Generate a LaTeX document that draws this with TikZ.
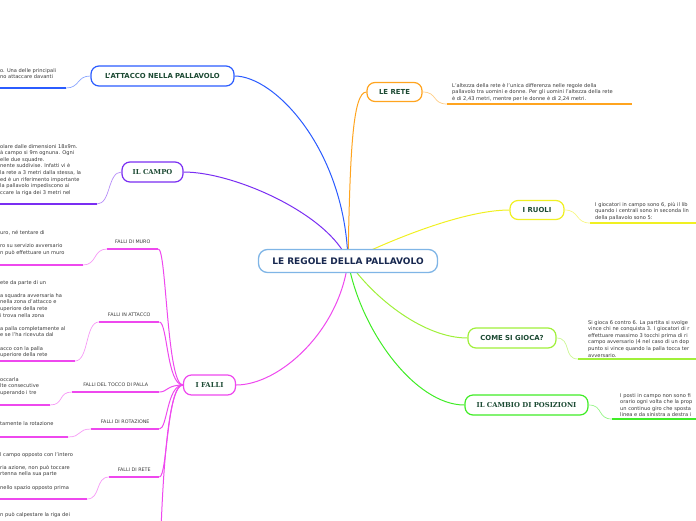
\documentclass[tikz,border=0pt]{standalone}
\usepackage{fontspec}
\setmainfont{DejaVu Sans}
\newfontfamily\slabfont{DejaVu Serif}
\usepackage{tikz}
\usetikzlibrary{positioning,backgrounds}
\definecolor{rootline}{HTML}{7FB5E6}
\definecolor{rootink}{HTML}{18284F}
\definecolor{topicink}{HTML}{1C4A33}
\definecolor{leafink}{HTML}{383838}
\definecolor{attblue}{HTML}{2B5CFF}
\definecolor{campoviolet}{HTML}{7A2EF2}
\definecolor{reteorange}{HTML}{FFA41F}
\definecolor{ruoliyellow}{HTML}{F0F022}
\definecolor{giocalime}{HTML}{A0F03A}
\definecolor{cambiogreen}{HTML}{40EC26}
\definecolor{fallimagenta}{HTML}{EE48EE}

\begin{document}
\begin{tikzpicture}[
  x=1pt, y=-1pt,
  root/.style={draw=rootline, line width=1.3pt, fill=white, rounded corners=9pt, minimum width=179pt, minimum height=23pt, inner sep=0pt, font=\fontsize{9}{10}\selectfont\bfseries, text=rootink},
  topic/.style={draw=#1, line width=1.2pt, fill=white, rounded corners=8pt, minimum height=20pt, inner sep=0pt, font=\fontsize{6.9}{8}\selectfont\bfseries, text=topicink},
  slabtopic/.style={font=\slabfont\fontsize{6.8}{8}\selectfont\bfseries},
  leaf/.style={anchor=north west, align=left, inner sep=0pt, font=\fontsize{5.1}{6.6}\selectfont, text=leafink},
  sublabel/.style={anchor=south west, inner xsep=0pt, inner ysep=4.5pt, text depth=0.5pt, font=\fontsize{4.8}{6}\selectfont, text=leafink},
  branch/.style={draw=#1, line width=1pt},
  twig/.style={draw=#1!55, line width=0.7pt},
  bar/.style={draw=#1, line width=1.6pt}
]
\useasboundingbox (0,0) rectangle (696,520);

\node[root] (root) at (348,261) {LE REGOLE DELLA PALLAVOLO};

\node[topic=attblue, minimum width=143pt] (attacco) at (162.5,76) {L'ATTACCO NELLA PALLAVOLO};
\node[topic=campoviolet, slabtopic, minimum width=61pt] (campo) at (152.5,172) {IL CAMPO};
\node[topic=reteorange, minimum width=55pt, minimum height=19pt] (rete) at (394.5,92) {LE RETE};
\node[topic=ruoliyellow, minimum width=54pt, minimum height=19pt] (ruoli) at (537,210) {I RUOLI};
\node[topic=giocalime, minimum width=88pt] (gioca) at (512,338) {COME SI GIOCA?};
\node[topic=cambiogreen, slabtopic, minimum width=123pt] (cambio) at (526.5,405) {IL CAMBIO DI POSIZIONI};
\node[topic=fallimagenta, slabtopic, minimum width=52pt] (falli) at (209.5,385) {I FALLI};

% texts of the leaves
\node[leaf] (tatt) at (0,68) {o. Una delle principali\\no attaccare davanti};
\node[leaf] (tcampo) at (0,144) {olare dalle dimensioni 18x9m.\\à campo si 9m ognuna. Ogni\\elle due squadre.\\nente suddivise. Infatti vi è\\la rete a 3 metri dalla stessa, la\\ed è un riferimento importante\\la pallavolo impediscono ai\\ccare la riga dei 3 metri nel};
\node[leaf] (trete) at (452,83) {L'altezza della rete è l'unica differenza nelle regole della\\pallavolo tra uomini e donne. Per gli uomini l'altezza della rete\\è di 2,43 metri, mentre per le donne è di 2,24 metri.};
\node[leaf] (truoli) at (595,202) {I giocatori in campo sono 6, più il lib\\quando i centrali sono in seconda lin\\della pallavolo sono 5:};
\node[leaf] (tgioca) at (588,320) {Si gioca 6 contro 6. La partita si svolge\\vince chi ne conquista 3. I giocatori di r\\effettuare massimo 3 tocchi prima di ri\\campo avversario (4 nel caso di un dop\\punto si vince quando la palla tocca ter\\avversario.};
\node[leaf] (tcambio) at (620,393) {I posti in campo non sono fi\\orario ogni volta che la prop\\un continuo giro che sposta\\linea e da sinistra a destra i};
\node[leaf] (tmuro) at (0,230) {uro, né tentare di\\ \\ro su servizio avversario\\n può effettuare un muro};
\node[leaf] (tfatt) at (0,280) {ete da parte di un\\ \\a squadra avversaria ha\\ nella zona d'attacco e\\uperiore della rete\\i trova nella zona\\ \\a palla completamente al\\e se l'ha ricevuta dal\\ \\acco con la palla\\uperiore della rete};
\node[leaf] (ttocco) at (0,377) {occarla\\lte consecutive\\uperando i tre};
\node[leaf] (trot) at (0,421) {tamente la rotazione};
\node[leaf] (tfret) at (0,452) {l campo opposto con l'intero\\ \\ria azione, non può toccare\\rtenna nella sua parte\\ \\ nello spazio opposto prima};
\node[leaf] (tlast) at (0,512.5) {n può calpestare la riga dei};

% sub-topics of I FALLI
\node[sublabel, minimum width=51pt] (fmuro) at (107,249) {FALLI DI MURO};
\node[sublabel, minimum width=60pt] (fatt) at (99,322) {FALLI IN ATTACCO};
\node[sublabel, minimum width=87pt] (ftocco) at (72,392) {FALLI DEL TOCCO DI PALLA};
\node[sublabel, minimum width=68pt] (frot) at (91,429) {FALLI DI ROTAZIONE};
\node[sublabel, minimum width=50pt] (fret) at (109,477) {FALLI DI RETE};
\coordinate (fnext) at (160,560);

% underline ends of the leaves
\coordinate (uatt) at (66,88);
\coordinate (ucampo) at (97,204);
\coordinate (urete) at (447,104);
\coordinate (uruoli) at (590,223);
\coordinate (ugioca) at (578,359);
\coordinate (ucambio) at (612,419);
\coordinate (umuro) at (83,265);
\coordinate (ufatt) at (75,361);
\coordinate (utocco) at (50,405);
\coordinate (urot) at (68,437);
\coordinate (ufret) at (87,499);

\begin{scope}[on background layer]
% main branches, out of the centre of the root
\draw[branch=attblue] (root.center) .. controls (345,150) and (275,76) .. (attacco.east);
\draw[branch=campoviolet] (root.center) .. controls (330,215) and (235,172) .. (campo.east);
\draw[branch=reteorange] (root.center) .. controls (350,160) and (352,92) .. (rete.west);
\draw[branch=ruoliyellow] (root.center) .. controls (380,245) and (460,210) .. (ruoli.west);
\draw[branch=giocalime] (root.center) .. controls (375,300) and (425,338) .. (gioca.west);
\draw[branch=cambiogreen] (root.center) .. controls (360,330) and (415,405) .. (cambio.west);
\draw[branch=fallimagenta] (root.center) .. controls (340,330) and (280,385) .. (falli.east);
\end{scope}

% leaves: thin s-curve, then a thick bar under the text
\foreach \t/\u/\c/\l in {attacco/uatt/attblue/-80, campo/ucampo/campoviolet/-110}{
  \draw[twig=\c] (\t.west) .. controls +(-14,0) and +(14,0) .. (\u);
  \draw[bar=\c] (\u) -- +(\l,0);
}
\foreach \t/\u/\c/\l in {rete/urete/reteorange/185, ruoli/uruoli/ruoliyellow/120, gioca/ugioca/giocalime/130, cambio/ucambio/cambiogreen/100}{
  \draw[twig=\c] (\t.east) .. controls +(15,0) and +(-15,0) .. (\u);
  \draw[bar=\c] (\u) -- +(\l,0);
}

\foreach \s/\u in {fmuro/umuro, fatt/ufatt, ftocco/utocco, frot/urot, fret/ufret}{
  \draw[branch=fallimagenta] (falli.west) .. controls +(-16,0) and +(8,0) .. (\s.south east);
  \draw[bar=fallimagenta] (\s.south west) -- (\s.south east);
  \draw[twig=fallimagenta] (\s.south west) .. controls +(-14,0) and +(14,0) .. (\u);
  \draw[bar=fallimagenta] (\u) -- +(-90,0);
}
\draw[branch=fallimagenta] (falli.west) .. controls +(-16,0) and +(2,-70) .. (fnext);
\end{tikzpicture}
\end{document}
